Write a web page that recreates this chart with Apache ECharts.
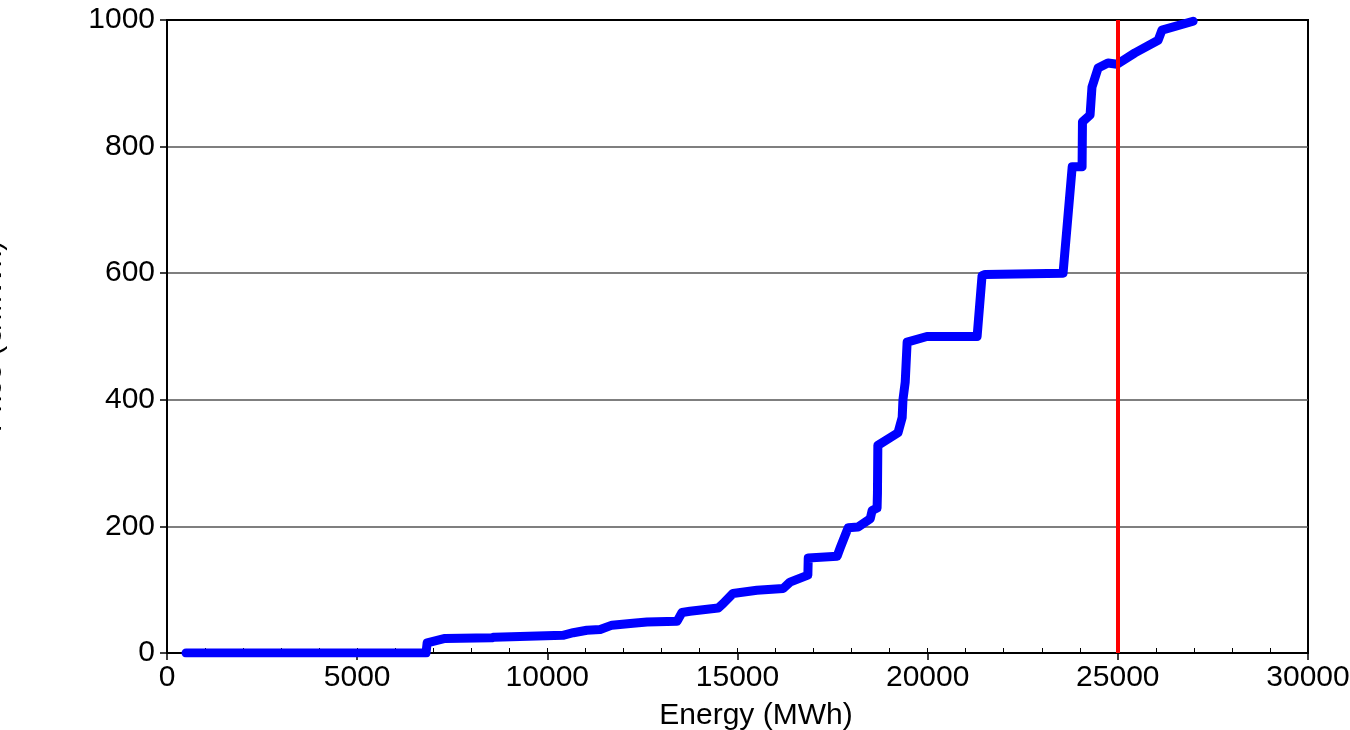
<!DOCTYPE html>
<html>
<head>
<meta charset="utf-8">
<script src="https://cdn.jsdelivr.net/npm/echarts@6/dist/echarts.min.js"></script>
<style>
  html, body { margin: 0; padding: 0; background: #fff; }
  #chart { width: 1350px; height: 730px; }
</style>
</head>
<body>
<div id="chart"></div>
<script>
// supply curve
const energy = [500, 6810, 6840, 7310, 8540, 8600, 10410, 10680, 11040, 11390, 11700, 12250, 12620, 13410,
  13540, 13750, 14490, 14620, 14880, 15510, 16200, 16380, 16850, 16860, 17620, 17700, 17910, 18170, 18490,
  18540, 18670, 18680, 18690, 19220, 19330, 19350, 19410, 19460, 19980, 21300, 21430, 21510, 23560, 23800,
  24060, 24070, 24270, 24320, 24480, 24740, 24980, 25450, 26060, 26160, 26980];
const price = [0, 0, 16, 23, 24, 25, 28, 32, 36, 37, 44, 47, 49, 50,
  64, 66, 71, 78, 94, 99, 102, 112, 123, 150, 153, 166, 198, 199, 212,
  225, 229, 253, 328, 348, 372, 400, 428, 491, 500, 500, 596, 598, 600, 768,
  768, 839, 850, 894, 924, 932, 930, 948, 968, 984, 998];
const demandLine = 25000;
const xTicks = [0, 5000, 10000, 15000, 20000, 25000, 30000];
const yTicks = [0, 200, 400, 600, 800, 1000];

const curve = energy.map((e, i) => [e, price[i]]);

var myChart = echarts.init(document.getElementById('chart'), null, { renderer: 'canvas' });
const font = 'Liberation Sans, Arial, sans-serif';
const plain = function (value) { return String(value); };
var option = {
    animation: false,
    grid: {
        left: 167, right: 42, top: 20, bottom: 77,
        outerBoundsMode: 'none',
        containLabel: false,
        show: true, borderColor: '#000', borderWidth: 2
    },
    xAxis: [
        {
            type: 'value',
            min: xTicks[0],
            max: xTicks[xTicks.length - 1],
            interval: 5000,
            name: 'Energy (MWh)',
            nameLocation: 'middle',
            nameGap: 48,
            nameTextStyle: { color: '#000', fontSize: 30, fontFamily: font, padding: [0, 0, 0, 37] },
            axisLine: { lineStyle: { color: '#000', width: 2 } },
            axisTick: { show: true, length: 7, lineStyle: { color: '#000', width: 1.5 } },
            axisLabel: { color: '#000', fontSize: 30, fontFamily: font, margin: 10, formatter: plain },
            splitLine: { show: false }
        },
        {
            // small inside ticks every 1000
            type: 'value',
            position: 'bottom',
            min: xTicks[0],
            max: xTicks[xTicks.length - 1],
            interval: 1000,
            axisLine: { show: false },
            axisTick: { show: true, inside: true, length: 5, lineStyle: { color: '#000', width: 1 } },
            axisLabel: { show: false },
            splitLine: { show: false }
        }
    ],
    yAxis: {
        type: 'value',
        min: yTicks[0],
        max: yTicks[yTicks.length - 1],
        interval: 200,
        name: 'Price (€/MWh)',
        nameLocation: 'middle',
        nameGap: 159,
        nameTextStyle: { color: '#000', fontSize: 30, fontFamily: font },
        axisLine: { lineStyle: { color: '#000', width: 2 } },
        axisTick: { show: true, length: 7, lineStyle: { color: '#000', width: 1.5 } },
        axisLabel: { color: '#000', fontSize: 30, fontFamily: font, margin: 12, formatter: plain },
        splitLine: {
            show: true, showMinLine: false, showMaxLine: false,
            lineStyle: { color: '#555', width: 1.5 }
        }
    },
    series: [
        {
            type: 'line',
            data: curve,
            showSymbol: false,
            lineStyle: { color: '#0000ff', width: 9, cap: 'round', join: 'round' },
            z: 3,
            markLine: {
                silent: true,
                symbol: 'none',
                label: { show: false },
                lineStyle: { color: '#ff0000', width: 4, type: 'solid' },
                data: [{ xAxis: demandLine }],
                z: 4
            }
        }
    ]
};
myChart.setOption(option);
</script>
</body>
</html>
